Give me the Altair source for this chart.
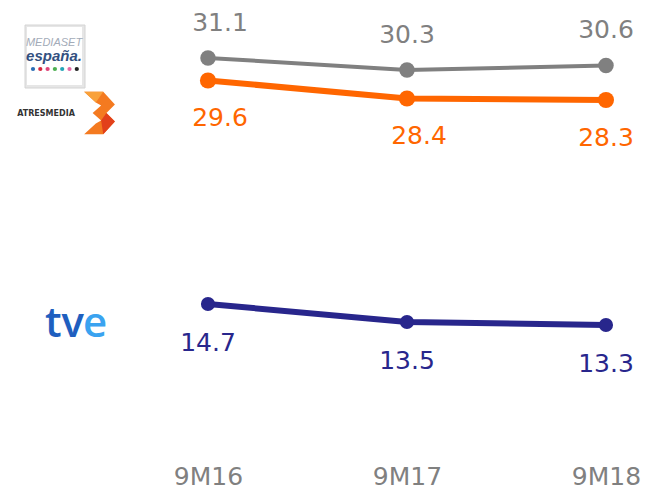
import altair as alt
import pandas as pd

categories = ["9M16", "9M17", "9M18"]
mediaset = [31.1, 30.3, 30.6]
atresmedia = [29.6, 28.4, 28.3]
tve = [14.7, 13.5, 13.3]

FONT = "DejaVu Sans"
W, H = 633, 482

xscale = alt.Scale(domain=[-1.005, 2.176], nice=False, zero=False)
yscale = alt.Scale(domain=[2.3, 34.43], nice=False, zero=False)

series = [
    # name, values, color, line width, point size, label dy, label shifted-right indices
    ("Mediaset", mediaset, "#808080", 4, 240, -35, [0]),
    ("Atresmedia", atresmedia, "#ff6600", 6, 260, 38, [0, 1]),
    ("TVE", tve, "#28268c", 6, 200, 39, []),
]

layers = []
for name, vals, color, lw, ps, dy, shifted in series:
    df = pd.DataFrame({
        "i": list(range(len(categories))),
        "cat": categories,
        "v": vals,
        "label": [f"{v:.1f}" for v in vals],
        "shift": [k in shifted for k in range(len(vals))],
    })
    base = alt.Chart(df).encode(
        x=alt.X("i:Q", scale=xscale,
                axis=alt.Axis(values=[0, 1, 2],
                              labelExpr="['9M16','9M17','9M18'][datum.value]",
                              domain=False, ticks=False, grid=False, title=None,
                              labelFont=FONT, labelFontSize=25, labelColor="#808080",
                              labelBaseline="alphabetic",
                              labelPadding=-5.5, labelFlush=False)),
        y=alt.Y("v:Q", scale=yscale, axis=None),
    )
    layers.append(base.mark_line(color=color, strokeWidth=lw))
    layers.append(base.mark_point(color=color, filled=True, opacity=1, size=ps))
    layers.append(base.transform_filter("!datum.shift").mark_text(
        font=FONT, fontSize=25, color=color, dy=dy, baseline="middle", align="center"
    ).encode(text="label:N"))
    layers.append(base.transform_filter("datum.shift").mark_text(
        font=FONT, fontSize=25, color=color, dy=dy, dx=12, baseline="middle", align="center"
    ).encode(text="label:N"))

# Logo stand-ins (decorations)
dummy = alt.Chart(pd.DataFrame({"a": [0]}))

# Mediaset España box
layers.append(dummy.mark_rect(fill="#e6e6e6", stroke="#d4d4d4", strokeWidth=1).encode(
    x=alt.value(17), x2=alt.value(77), y=alt.value(17), y2=alt.value(80)))
layers.append(dummy.mark_rect(fill="#ffffff").encode(
    x=alt.value(19), x2=alt.value(74), y=alt.value(19), y2=alt.value(77)))
layers.append(dummy.mark_text(text="MEDIASET", font="Liberation Sans", fontSize=11,
                              fontStyle="italic", color="#a3abb8", align="center",
                              baseline="middle").encode(x=alt.value(46), y=alt.value(35)))
layers.append(dummy.mark_text(text="españa.", font="Liberation Sans", fontSize=15,
                              fontStyle="italic", fontWeight="bold", color="#33507f",
                              align="center", baseline="middle").encode(
    x=alt.value(46), y=alt.value(48)))
dot_colors = ["#2a6db5", "#d6283f", "#e0457b", "#4caf50", "#23a5b8", "#e26aa6", "#222222"]
for k, c in enumerate(dot_colors):
    layers.append(dummy.mark_point(filled=True, color=c, opacity=1, size=18).encode(
        x=alt.value(25 + k * 7.3), y=alt.value(61)))

# Atresmedia
layers.append(dummy.mark_text(text="ATRESMEDIA", font=FONT, fontSize=8, fontWeight="bold",
                              color="#333333", align="center", baseline="middle").encode(
    x=alt.value(38), y=alt.value(106)))
icon_main = "M -0.7,-1 L 0.2,-1 L 0.75,-0.4 L 0.35,0 L 0.75,0.4 L 0.2,1 L -0.7,1 L -0.15,0.5 L 0.1,0.35 L -0.3,0 L 0.1,-0.35 L -0.15,-0.5 Z"
icon_dark = "M 0.35,0 L 0.75,0.4 L 0.2,1 L 0.1,0.35 Z"
icon_light = "M -0.7,-1 L 0.2,-1 L -0.15,-0.5 Z"
layers.append(dummy.mark_point(shape=icon_main, filled=True, color="#f47a20", opacity=1,
                               size=1800).encode(x=alt.value(91), y=alt.value(105)))
layers.append(dummy.mark_point(shape=icon_dark, filled=True, color="#e2401b", opacity=1,
                               size=1800).encode(x=alt.value(91), y=alt.value(105)))
layers.append(dummy.mark_point(shape=icon_light, filled=True, color="#f9a13a", opacity=1,
                               size=1800).encode(x=alt.value(91), y=alt.value(105)))

# tve
layers.append(dummy.mark_text(text="tv", font="Open Sans", fontSize=42, fontWeight=600,
                              color="#1f5fbf", align="right", baseline="middle").encode(
    x=alt.value(76), y=alt.value(316)))
layers.append(dummy.mark_text(text="e", font="Open Sans", fontSize=42, fontWeight=600,
                              color="#3aa3f0", align="left", baseline="middle").encode(
    x=alt.value(75), y=alt.value(316)))

chart = alt.layer(*layers).properties(
    width=W, height=H,
    background="white",
    autosize=alt.AutoSizeParams(type="none"),
    padding={"left": 0, "right": 0, "top": 0, "bottom": 0},
).configure_view(stroke="transparent", strokeWidth=0).configure_axis(
    domain=False, ticks=False, grid=False
)

chart.save("out.html", embed_options={"renderer": "svg", "actions": False})
